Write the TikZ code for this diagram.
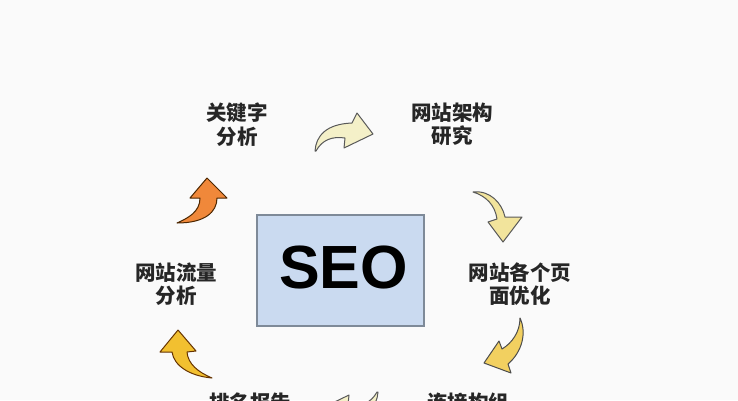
\documentclass[tikz,border=0pt]{standalone}
\usepackage{fontspec}
\setmainfont{Liberation Sans}
\newfontfamily\cjk{Noto Sans CJK SC}
\definecolor{bgc}{HTML}{FAFAFA}
\definecolor{boxfill}{HTML}{CADAF0}
\definecolor{boxline}{HTML}{7E8A98}
\definecolor{txt}{HTML}{262626}
\definecolor{cream}{HTML}{F4F0C8}
\definecolor{paley}{HTML}{F2E49C}
\definecolor{goldy}{HTML}{F2D060}
\definecolor{gold}{HTML}{F2C030}
\definecolor{orng}{HTML}{F0883A}
\tikzset{
  lbl/.style={font=\cjk\bfseries\fontsize{20.5}{23.5}\selectfont, text=txt, align=center, inner sep=0pt},
  arr/.style={draw=#1, line width=1pt, line join=round},
}
\begin{document}
\begin{tikzpicture}[x=1pt,y=-1pt]
\useasboundingbox (0,0) rectangle (738,400);
\clip (0,0) rectangle (738,400);
\fill[bgc] (0,0) rectangle (738,400);

% centre box
\node[draw=boxline, line width=1.8pt, fill=boxfill, minimum width=167pt, minimum height=111pt, inner sep=0pt] (seo) at (340.5,270.5) {};
\node[font=\bfseries\fontsize{61}{61}\selectfont, inner sep=0pt] (seot) at (343.5,267) {SEO};

% labels
\node[lbl] (kw) at (237,124.5) {关键字\\分析};
\node[lbl] (arch) at (452,124.5) {网站架构\\研究};
\node[lbl] (page) at (520,284) {网站各个页\\面优化};
\node[lbl] (flow) at (176,284) {网站流量\\分析};
\node[lbl] (rank) at (250,402.5) {排名报告};
\node[lbl] (link) at (468,402.5) {连接构组};

% arrows
\filldraw[arr=gray!70!black, fill=cream] (315,151) .. controls (316,136) and (326,124) .. (352,123) -- (357,113) -- (373,134) -- (344,148) -- (345,138) .. controls (332,136) and (322,140) .. (316,151) -- cycle;
\filldraw[arr=gray!70!black, fill=paley] (473,192) .. controls (490,190) and (502,203) .. (505,217) -- (522,217) -- (503,242) -- (488,222) -- (497,219) .. controls (495,205) and (486,196) .. (473,192) -- cycle;
\filldraw[arr=gray!60!black, fill=goldy] (520,318) .. controls (527,333) and (522,352) .. (508,364) -- (511,373) -- (484,363) -- (499,341) -- (502,349) .. controls (512,343) and (520,332) .. (520,318) -- cycle;
\filldraw[arr=black!70!orange, fill=orng] (177,223) .. controls (188,218) and (200,212) .. (200,198) -- (190,198) -- (207,178) -- (227,198) -- (217,198) .. controls (217,212) and (205,223) .. (177,223) -- cycle;
\filldraw[arr=black!60!orange, fill=gold] (212,378) .. controls (198,372) and (188,364) .. (187,352) -- (196,351) -- (178,330) -- (160,352) -- (172,352) .. controls (174,366) and (190,376) .. (212,378) -- cycle;
\begin{scope}[rotate around={180:(346.5,271.5)}]
\filldraw[arr=gray!70!black, fill=cream] (315,151) .. controls (316,136) and (326,124) .. (352,123) -- (357,113) -- (373,134) -- (344,148) -- (345,138) .. controls (332,136) and (322,140) .. (316,151) -- cycle;
\end{scope}
\end{tikzpicture}
\end{document}
